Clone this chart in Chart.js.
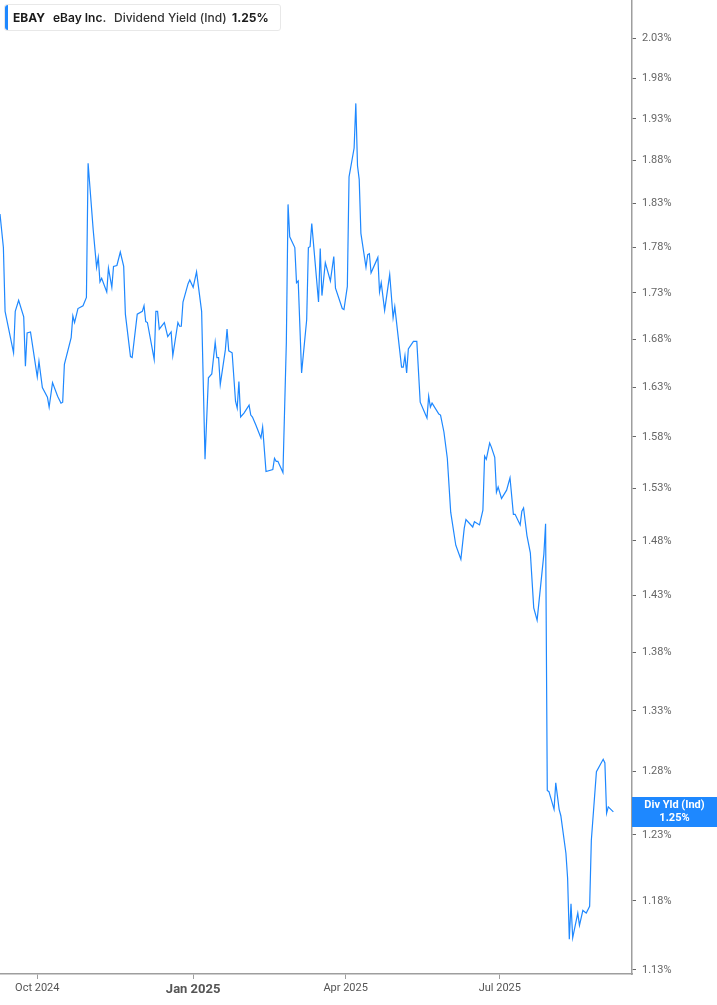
<!DOCTYPE html>
<html>
<head>
<meta charset="utf-8">
<script src="https://cdn.jsdelivr.net/npm/chart.js@4.4.1/dist/chart.umd.min.js"></script>
<style>
    html, body { margin: 0; padding: 0; background: #fff; }
    #wrap { position: relative; width: 717px; height: 1005px; }
    #legend {
        position: absolute; left: 4px; top: 4px; width: 275px; height: 25px;
        border: 1px solid #e8e8e8; border-radius: 3px; background: #fff;
        font-family: Inter, "Noto Sans", sans-serif; font-size: 12px; color: #1b1b1b;
    }
    #legend .bar { position: absolute; left: 0; top: 0; width: 3px; height: 25px; background: #1e88ff; border-radius: 3px 0 0 3px; }
    #legend span.t { position: absolute; top: 5px; white-space: nowrap; }
</style>
</head>
<body>
<div id="wrap">
    <canvas id="yield-chart" width="717" height="1005"></canvas>
    <div id="legend">
        <span class="bar"></span>
        <span class="t" id="lg-sym" style="left:8px;font-weight:700"></span>
        <span class="t" id="lg-name" style="left:48px;font-weight:600"></span>
        <span class="t" id="lg-metric" style="left:109px;font-weight:500;color:#333"></span>
        <span class="t" id="lg-value" style="left:227px;font-weight:700"></span>
    </div>
</div>
<script>
// Series: dividend yield (%)
const dates = [
    '2024-09-09', '2024-09-11', '2024-09-12', '2024-09-17', '2024-09-18', '2024-09-20', '2024-09-23', '2024-09-24',
    '2024-09-25', '2024-09-27', '2024-10-01', '2024-10-02', '2024-10-04', '2024-10-07', '2024-10-08', '2024-10-10',
    '2024-10-13', '2024-10-15', '2024-10-16', '2024-10-17', '2024-10-21', '2024-10-22', '2024-10-23', '2024-10-25',
    '2024-10-28', '2024-10-30', '2024-10-31', '2024-11-03', '2024-11-05', '2024-11-06', '2024-11-07', '2024-11-08',
    '2024-11-11', '2024-11-12', '2024-11-14', '2024-11-15', '2024-11-17', '2024-11-19', '2024-11-21', '2024-11-22',
    '2024-11-25', '2024-11-26', '2024-11-29', '2024-12-02', '2024-12-03', '2024-12-04', '2024-12-05', '2024-12-09',
    '2024-12-10', '2024-12-11', '2024-12-12', '2024-12-15', '2024-12-17', '2024-12-19', '2024-12-20', '2024-12-23',
    '2024-12-24', '2024-12-25', '2024-12-26', '2024-12-29', '2024-12-30', '2025-01-01', '2025-01-03', '2025-01-06',
    '2025-01-08', '2025-01-10', '2025-01-12', '2025-01-14', '2025-01-15', '2025-01-16', '2025-01-17', '2025-01-20',
    '2025-01-21', '2025-01-22', '2025-01-24', '2025-01-26', '2025-01-27', '2025-01-28', '2025-01-29', '2025-01-31',
    '2025-02-03', '2025-02-04', '2025-02-05', '2025-02-07', '2025-02-10', '2025-02-11', '2025-02-13', '2025-02-17',
    '2025-02-18', '2025-02-19', '2025-02-20', '2025-02-23', '2025-02-25', '2025-02-26', '2025-02-27', '2025-03-02',
    '2025-03-03', '2025-03-04', '2025-03-06', '2025-03-09', '2025-03-10', '2025-03-11', '2025-03-12', '2025-03-16',
    '2025-03-17', '2025-03-18', '2025-03-20', '2025-03-23', '2025-03-25', '2025-03-26', '2025-03-30', '2025-03-31',
    '2025-04-02', '2025-04-03', '2025-04-06', '2025-04-07', '2025-04-08', '2025-04-09', '2025-04-10', '2025-04-13',
    '2025-04-14', '2025-04-15', '2025-04-16', '2025-04-20', '2025-04-21', '2025-04-22', '2025-04-24', '2025-04-27',
    '2025-04-29', '2025-04-30', '2025-05-04', '2025-05-05', '2025-05-06', '2025-05-07', '2025-05-08', '2025-05-11',
    '2025-05-13', '2025-05-15', '2025-05-19', '2025-05-20', '2025-05-21', '2025-05-22', '2025-05-26', '2025-05-27',
    '2025-05-29', '2025-05-31', '2025-06-02', '2025-06-05', '2025-06-08', '2025-06-10', '2025-06-11', '2025-06-15',
    '2025-06-16', '2025-06-19', '2025-06-21', '2025-06-22', '2025-06-23', '2025-06-25', '2025-06-26', '2025-06-28',
    '2025-06-29', '2025-06-30', '2025-07-02', '2025-07-05', '2025-07-07', '2025-07-09', '2025-07-10', '2025-07-13',
    '2025-07-14', '2025-07-15', '2025-07-17', '2025-07-19', '2025-07-21', '2025-07-23', '2025-07-27', '2025-07-28',
    '2025-07-29', '2025-07-30', '2025-08-02', '2025-08-03', '2025-08-05', '2025-08-06', '2025-08-09', '2025-08-10',
    '2025-08-11', '2025-08-12', '2025-08-13', '2025-08-16', '2025-08-17', '2025-08-19', '2025-08-21', '2025-08-23',
    '2025-08-24', '2025-08-27', '2025-08-31', '2025-09-01', '2025-09-02', '2025-09-03', '2025-09-06'
];

const yieldValues = [
    1.818, 1.780, 1.710, 1.666, 1.710, 1.722, 1.704, 1.652,
    1.687, 1.688, 1.641, 1.657, 1.630, 1.620, 1.610, 1.635,
    1.621, 1.614, 1.615, 1.654, 1.682, 1.705, 1.698, 1.713,
    1.716, 1.725, 1.877, 1.800, 1.758, 1.769, 1.742, 1.746,
    1.731, 1.757, 1.736, 1.759, 1.760, 1.775, 1.759, 1.707,
    1.662, 1.661, 1.707, 1.710, 1.716, 1.699, 1.698, 1.659,
    1.710, 1.710, 1.691, 1.698, 1.683, 1.688, 1.663, 1.698,
    1.694, 1.694, 1.720, 1.740, 1.744, 1.736, 1.753, 1.710,
    1.558, 1.640, 1.644, 1.677, 1.661, 1.661, 1.633, 1.669,
    1.691, 1.668, 1.666, 1.616, 1.609, 1.636, 1.600, 1.604,
    1.612, 1.602, 1.600, 1.592, 1.579, 1.590, 1.546, 1.548,
    1.559, 1.556, 1.556, 1.545, 1.677, 1.829, 1.792, 1.780,
    1.741, 1.743, 1.645, 1.701, 1.780, 1.781, 1.807, 1.720,
    1.779, 1.727, 1.763, 1.743, 1.770, 1.735, 1.713, 1.712,
    1.737, 1.861, 1.895, 1.949, 1.874, 1.858, 1.796, 1.758,
    1.772, 1.773, 1.752, 1.769, 1.731, 1.741, 1.711, 1.750,
    1.703, 1.715, 1.651, 1.651, 1.663, 1.645, 1.670, 1.678,
    1.678, 1.615, 1.599, 1.621, 1.610, 1.614, 1.603, 1.602,
    1.585, 1.559, 1.507, 1.476, 1.463, 1.492, 1.500, 1.493,
    1.498, 1.495, 1.509, 1.561, 1.558, 1.574, 1.570, 1.560,
    1.526, 1.531, 1.520, 1.528, 1.540, 1.505, 1.505, 1.495,
    1.508, 1.511, 1.485, 1.469, 1.419, 1.408, 1.468, 1.496,
    1.265, 1.264, 1.250, 1.271, 1.250, 1.245, 1.216, 1.197,
    1.152, 1.178, 1.153, 1.171, 1.162, 1.173, 1.171, 1.176,
    1.226, 1.280, 1.290, 1.287, 1.247, 1.252, 1.248
];

// Axis ticks
const xTickDates = ['2024-10-01', '2025-01-01', '2025-04-01', '2025-07-01'];
const xTickLabels = ['Oct 2024', 'Jan 2025', 'Apr 2025', 'Jul 2025'];
const yTickValues = [1.13, 1.18, 1.23, 1.28, 1.33, 1.38, 1.43, 1.48, 1.53, 1.58,
    1.63, 1.68, 1.73, 1.78, 1.83, 1.88, 1.93, 1.98, 2.03];

const ticker = 'EBAY';
const companyName = 'eBay Inc.';
const metricName = 'Dividend Yield (Ind)';
const shortMetricName = 'Div Yld (Ind)';

// Visible range
const axisStart = '2024-09-09';
const axisEnd = '2025-09-17';
const yMin = 1.127;
const yMax = 2.08;

const lineColor = '#1e88ff';
const axisColor = '#9e9e9e';
const tickFont = { family: 'Roboto, "Noto Sans", sans-serif', size: 11 };

// Days since 1 Oct 2024
const dayOf = (d) => (Date.parse(d) - Date.parse('2024-10-01')) / 86400000;

const points = dates.map((d, i) => ({ x: dayOf(d), y: yieldValues[i] }));
const lastValue = yieldValues[yieldValues.length - 1];

// Legend text
document.getElementById('lg-sym').textContent = ticker;
document.getElementById('lg-name').textContent = companyName;
document.getElementById('lg-metric').textContent = metricName;
document.getElementById('lg-value').textContent = lastValue.toFixed(2) + '%';

// Keep the plot flush with the canvas edges (no half-label padding)
function noEdgePadding(scale) {
    scale.paddingTop = 0;
    scale.paddingBottom = 0;
    scale.paddingLeft = 0;
    scale.paddingRight = 0;
}

// Current value box on the right axis
const lastValueBox = {
    id: 'lastValueBox',
    afterDraw(chart) {
        const ctx = chart.ctx;
        const area = chart.chartArea;
        const y = chart.scales.y.getPixelForValue(lastValue);
        const cx = (area.right + chart.width) / 2;
        ctx.save();
        ctx.fillStyle = lineColor;
        ctx.fillRect(area.right, Math.round(y) - 15, chart.width - area.right, 30);
        ctx.fillStyle = '#fff';
        ctx.font = 'bold 11px Roboto, "Noto Sans", sans-serif';
        ctx.textAlign = 'center';
        ctx.textBaseline = 'middle';
        ctx.fillText(shortMetricName, cx, y - 7);
        ctx.fillText(lastValue.toFixed(2) + '%', cx, y + 6);
        ctx.restore();
    }
};

const ctx = document.getElementById('yield-chart').getContext('2d');
const yieldChart = new Chart(ctx, {
    type: 'line',
    data: {
        datasets: [{
            data: points,
            borderColor: lineColor,
            borderWidth: 1.2,
            pointRadius: 0,
            tension: 0,
            fill: false
        }]
    },
    options: {
        responsive: true,
        maintainAspectRatio: false,
        animation: false,
        layout: { padding: 0 },
        plugins: {
            legend: { display: false },
            tooltip: { enabled: false }
        },
        scales: {
            x: {
                type: 'linear',
                min: dayOf(axisStart),
                max: dayOf(axisEnd),
                afterBuildTicks: (scale) => {
                    scale.ticks = xTickDates.map(d => ({ value: dayOf(d) }));
                },
                afterFit: (scale) => { scale.height = 31; noEdgePadding(scale); },
                ticks: {
                    autoSkip: false,
                    maxRotation: 0,
                    padding: 3,
                    color: '#555',
                    callback: (value, index) => xTickLabels[index],
                    font: (c) => c.index === 1
                        ? { family: tickFont.family, size: 13, weight: 'bold' }
                        : tickFont
                },
                grid: { drawOnChartArea: false, tickLength: 5, tickColor: axisColor },
                border: { color: axisColor, width: 1.5 }
            },
            y: {
                type: 'logarithmic',
                position: 'right',
                min: yMin,
                max: yMax,
                afterBuildTicks: (scale) => {
                    scale.ticks = yTickValues.map(v => ({ value: v }));
                },
                afterFit: (scale) => { scale.width = 85; noEdgePadding(scale); },
                ticks: {
                    autoSkip: false,
                    padding: 6,
                    color: '#666',
                    font: tickFont,
                    callback: (value) => value.toFixed(2) + '%'
                },
                grid: { drawOnChartArea: false, tickLength: 4, tickColor: '#666' },
                border: { color: axisColor, width: 1.5 }
            }
        }
    },
    plugins: [lastValueBox]
});
</script>
</body>
</html>
